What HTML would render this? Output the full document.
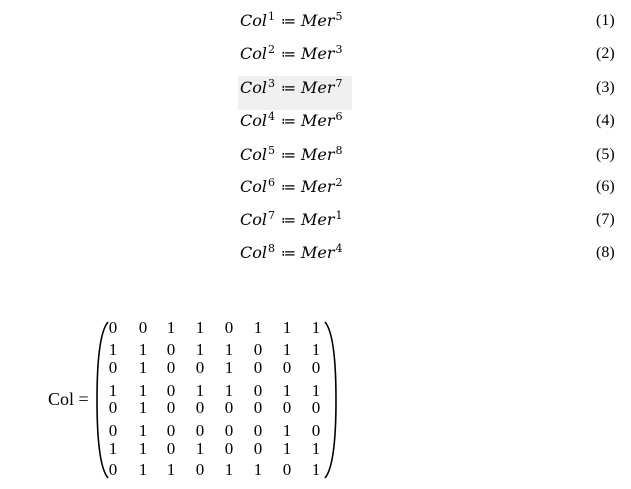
<!DOCTYPE html>
<html><head><meta charset="utf-8"><style>
body{margin:0;width:631px;height:489px;background:#fff;position:relative;overflow:hidden;font-family:"Liberation Serif","DejaVu Serif",serif;color:#000}
.eq{position:absolute;left:240px;font-style:italic;font-size:16px;line-height:20px;white-space:nowrap;font-family:"DejaVu Serif",serif}
.eq sup{font-size:11px;font-style:normal;vertical-align:6px;line-height:0;margin-left:1px}
.eq .op{font-style:normal;font-family:"DejaVu Sans",sans-serif;font-size:15px;margin:0 5px 0 6px}
.num{position:absolute;left:596px;font-size:16px;line-height:20px}
.m{position:absolute;font-size:17px;line-height:18px;width:12px;text-align:center}
</style></head><body>
<div style="position:absolute;left:238px;top:76px;width:114px;height:34px;background:#f0f0f0"></div>
<div class="eq" style="top:11px">Col<sup>1</sup><span class="op">≔</span>Mer<sup>5</sup></div><div class="num" style="top:11px">(1)</div>
<div class="eq" style="top:44px">Col<sup>2</sup><span class="op">≔</span>Mer<sup>3</sup></div><div class="num" style="top:44px">(2)</div>
<div class="eq" style="top:78px">Col<sup>3</sup><span class="op">≔</span>Mer<sup>7</sup></div><div class="num" style="top:78px">(3)</div>
<div class="eq" style="top:111px">Col<sup>4</sup><span class="op">≔</span>Mer<sup>6</sup></div><div class="num" style="top:111px">(4)</div>
<div class="eq" style="top:145px">Col<sup>5</sup><span class="op">≔</span>Mer<sup>8</sup></div><div class="num" style="top:145px">(5)</div>
<div class="eq" style="top:177px">Col<sup>6</sup><span class="op">≔</span>Mer<sup>2</sup></div><div class="num" style="top:177px">(6)</div>
<div class="eq" style="top:210px">Col<sup>7</sup><span class="op">≔</span>Mer<sup>1</sup></div><div class="num" style="top:210px">(7)</div>
<div class="eq" style="top:243px">Col<sup>8</sup><span class="op">≔</span>Mer<sup>4</sup></div><div class="num" style="top:243px">(8)</div>

<div style="position:absolute;left:48px;top:389px;font-size:18px;line-height:20px">Col =</div>
<svg style="position:absolute;left:0;top:0" width="631" height="489">
<path d="M108,322 Q97,335 97,400 Q97,465 108,478" fill="none" stroke="#000" stroke-width="1.6"/>
<path d="M325,322 Q336,335 336,400 Q336,465 325,478" fill="none" stroke="#000" stroke-width="1.6"/>
</svg>
<div id="mat"></div>
<script>
var rows=["00110111","11011011","01001000","11011011","01000000","01000010","11010011","01101101"];
var ys=[327,349,367,390,407,430,448,469];
var xs=[113,143,171,200,229,258,287,316];
var h="";
rows.forEach(function(r,i){for(var j=0;j<8;j++){h+='<div class="m" style="left:'+(xs[j]-6)+'px;top:'+(ys[i]-8)+'px">'+r[j]+'</div>';}});
document.getElementById("mat").innerHTML=h;
</script>
</body></html>
